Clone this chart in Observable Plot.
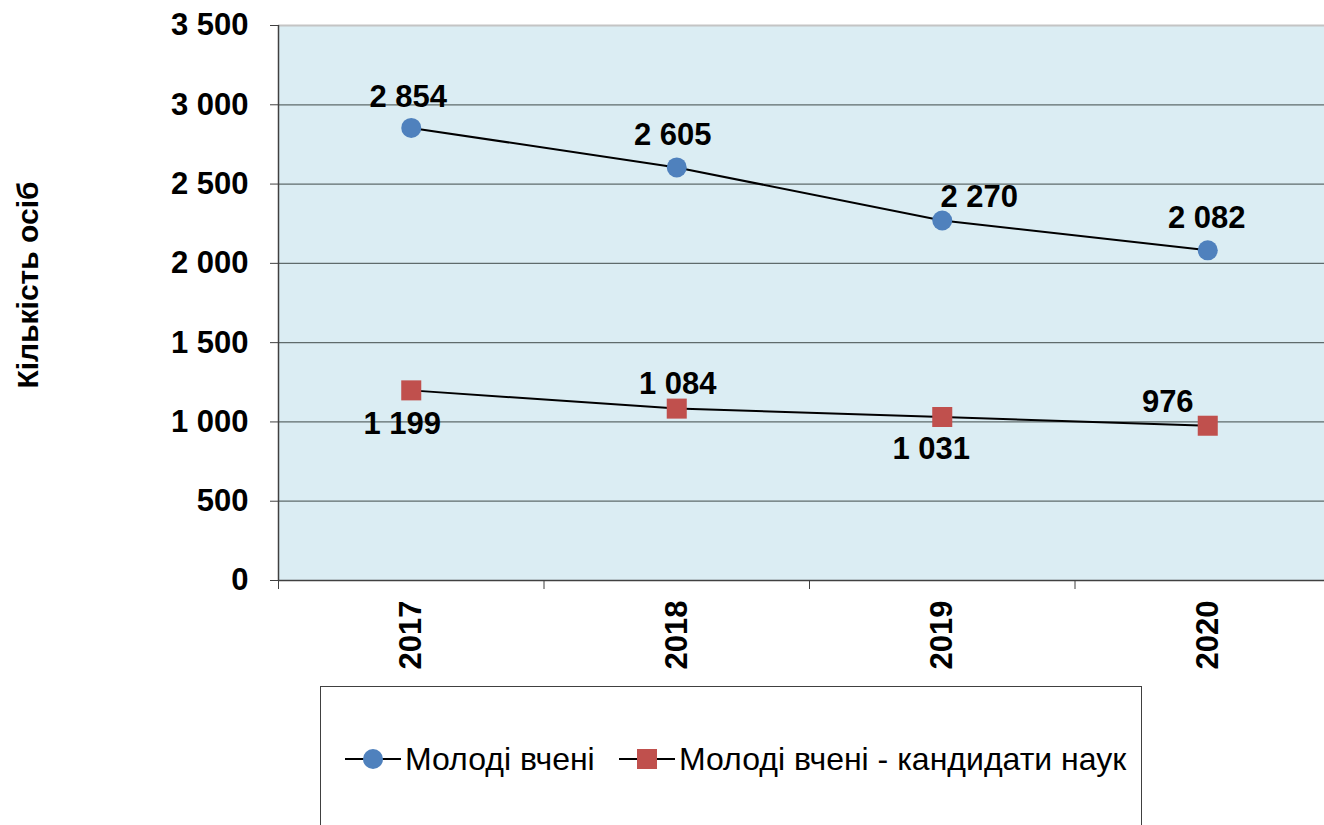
<!DOCTYPE html>
<html>
<head>
<meta charset="utf-8">
<script src="https://cdn.jsdelivr.net/npm/d3@7"></script>
<script src="https://cdn.jsdelivr.net/npm/@observablehq/plot@0.6"></script>
<style>
  html, body { margin: 0; padding: 0; background: #fff; overflow: hidden; }
  body { font-family: "Liberation Sans", Arial, sans-serif; width: 1324px; height: 825px; position: relative; }
  #chart { position: absolute; left: 0; top: 0; }
  #legend { position: absolute; left: 320px; top: 686px; width: 822px; height: 160px;
            border: 1.5px solid #404040; border-bottom: none; box-sizing: border-box; }
  .item { position: absolute; top: 55px; display: flex; align-items: center; height: 34px;
          font-size: 32px; color: #000; white-space: nowrap; }
  .item svg { display: block; margin-right: 4px; }
</style>
</head>
<body>
<div id="chart"></div>
<div id="legend"></div>
<script>
// ---- data ----
const years = ["2017", "2018", "2019", "2020"];
const seriesNames = ["Молоді вчені", "Молоді вчені - кандидати наук"];
const youngScientists = [2854, 2605, 2270, 2082];
const youngCandidates = [1199, 1084, 1031, 976];
const yTicks = [0, 500, 1000, 1500, 2000, 2500, 3000, 3500];
const yTitle = "Кількість осіб";

// ---- helpers ----
const fmt = d3.formatLocale({decimal: ",", thousands: "\u00a0", grouping: [3], currency: ["", ""]}).format(",");
const toRows = (vals) => years.map((year, i) => ({year, pos: i + 0.5, value: vals[i]}));
const rowsA = toRows(youngScientists);
const rowsB = toRows(youngCandidates);

const blue = "#4F81BD", red = "#C0504D";
const FONT = "'Liberation Sans', Arial, sans-serif";
const NUM_SIZE = 31;

function label(rows, i, dx, dy) {
  return Plot.text([rows[i]], {
    x: "pos", y: "value", text: d => fmt(d.value),
    dx, dy, fontSize: NUM_SIZE, fontWeight: "bold", fill: "#000",
    textAnchor: "middle", lineAnchor: "middle"
  });
}

const H = 686;
const chart = Plot.plot({
  width: 1324,
  height: H,
  marginLeft: 278,
  marginRight: 0,
  marginTop: 25,
  marginBottom: H - 580,
  style: {fontFamily: FONT, color: "#000", background: "transparent", overflow: "visible"},
  x: {type: "linear", domain: [0, years.length], range: [278, 1340]},
  y: {domain: [0, 3500], range: [580, 25]},
  marks: [
    Plot.frame({fill: "#DBEDF3", stroke: "none"}),
    Plot.ruleY(yTicks.filter(t => t > 0 && t < 3500), {stroke: "#5f6b6b", strokeWidth: 1.3}),
    Plot.ruleY([3500], {stroke: "#c4c4c4", strokeWidth: 2}),
    Plot.ruleY([0], {stroke: "#404040", strokeWidth: 1.5}),
    Plot.ruleX([0], {stroke: "#404040", strokeWidth: 1.5}),
    Plot.axisY({ticks: yTicks, tickSize: 8, tickPadding: 22, tickFormat: fmt,
                fontSize: NUM_SIZE, fontWeight: "bold", stroke: "#404040", label: null}),
    Plot.axisX({ticks: d3.range(years.length + 1), tickSize: 9, tickFormat: () => "",
                stroke: "#404040", label: null}),
    Plot.axisX({ticks: years.map((_, i) => i + 0.5), tickSize: 0, tickPadding: 20, tickRotate: -90,
                tickFormat: d => years[Math.floor(d)], fontSize: NUM_SIZE, fontWeight: "bold", label: null}),
    Plot.line(rowsA, {x: "pos", y: "value", stroke: "#000", strokeWidth: 2}),
    Plot.line(rowsB, {x: "pos", y: "value", stroke: "#000", strokeWidth: 2}),
    Plot.dot(rowsA, {x: "pos", y: "value", r: 10, fill: blue, stroke: "none"}),
    Plot.dot(rowsB, {x: "pos", y: "value", symbol: "square", r: 11.3, fill: red, stroke: "none"}),
    label(rowsA, 0, -3, -31),
    label(rowsA, 1, -4, -32),
    label(rowsA, 2, 37, -23),
    label(rowsA, 3, -1, -32),
    label(rowsB, 0, -9, 34),
    label(rowsB, 1, 1, -25),
    label(rowsB, 2, -11, 32),
    label(rowsB, 3, -40, -24),
    Plot.text([yTitle], {frameAnchor: "left", dx: -250, dy: -18, rotate: -90,
                         textAnchor: "middle", lineAnchor: "middle",
                         fontSize: 30, fontWeight: "bold", fill: "#000"})
  ]
});
document.getElementById("chart").appendChild(chart);

// ---- legend (HTML, below the SVG) ----
const legend = document.getElementById("legend");
const items = [
  {name: seriesNames[0], left: 24, shape: "circle", color: blue},
  {name: seriesNames[1], left: 298, shape: "square", color: red}
];
for (const it of items) {
  const div = document.createElement("div");
  div.className = "item";
  div.style.left = it.left + "px";
  const sym = it.shape === "circle"
    ? `<circle cx="28" cy="17" r="10" fill="${it.color}"/>`
    : `<rect x="18" y="7" width="20" height="20" fill="${it.color}"/>`;
  div.innerHTML = `<svg width="56" height="34"><line x1="0" x2="56" y1="17" y2="17" stroke="#000" stroke-width="2"/>${sym}</svg><span></span>`;
  div.querySelector("span").textContent = it.name;
  legend.appendChild(div);
}
</script>
</body>
</html>
